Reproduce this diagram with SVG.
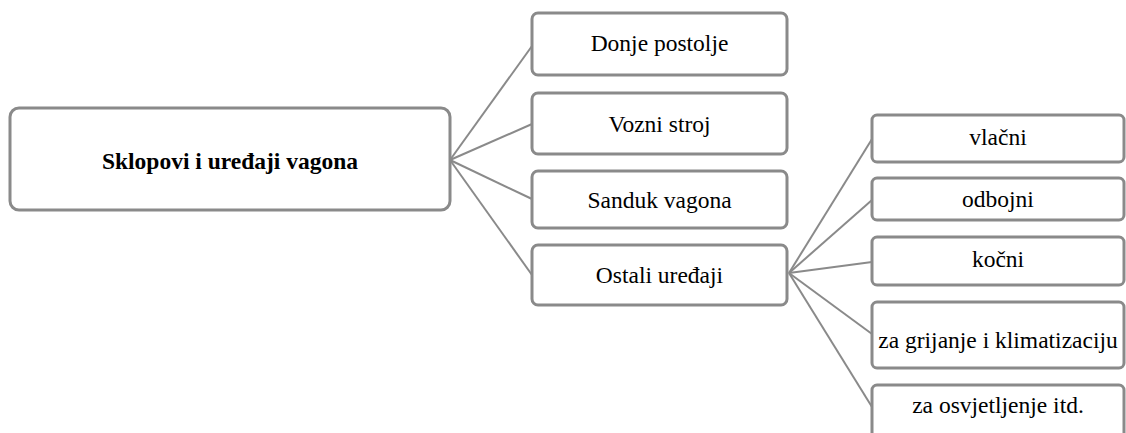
<svg xmlns="http://www.w3.org/2000/svg" width="1126" height="433" viewBox="0 0 1126 433">
<style>
.box{fill:#ffffff;stroke:#8a8a8a;stroke-width:3}
text{font-family:'Liberation Serif','Times New Roman',serif;font-size:23.5px;fill:#000;text-anchor:middle}
.b{font-weight:bold}
.con{stroke:#8a8a8a;stroke-width:2;fill:none}
</style>
<rect width="1126" height="433" fill="#ffffff"/>
<g id="connectors">
<line class="con" x1="450" y1="160" x2="532" y2="46"/>
<line class="con" x1="450" y1="160" x2="532" y2="124"/>
<line class="con" x1="450" y1="160" x2="532" y2="199"/>
<line class="con" x1="450" y1="160" x2="532" y2="275"/>
<line class="con" x1="789" y1="273" x2="872" y2="139"/>
<line class="con" x1="789" y1="273" x2="872" y2="200"/>
<line class="con" x1="789" y1="273" x2="872" y2="262"/>
<line class="con" x1="789" y1="273" x2="872" y2="334"/>
<line class="con" x1="789" y1="273" x2="872" y2="407"/>
</g>
<g id="root"><rect class="box" x="10" y="108" width="440" height="102" rx="9"/><text class="b" x="230" y="169">Sklopovi i uređaji vagona</text></g>
<g id="donje"><rect class="box" x="532" y="13" width="255" height="62" rx="6"/><text x="659.5" y="51">Donje postolje</text></g>
<g id="vozni"><rect class="box" x="532" y="93" width="255" height="61" rx="6"/><text x="659.5" y="132">Vozni stroj</text></g>
<g id="sanduk"><rect class="box" x="532" y="171" width="255" height="57" rx="6"/><text x="659.5" y="208">Sanduk vagona</text></g>
<g id="ostali"><rect class="box" x="532" y="245" width="255" height="60" rx="6"/><text x="659.5" y="283">Ostali uređaji</text></g>
<g id="vlacni"><rect class="box" x="872" y="115" width="252" height="47" rx="5"/><text x="998" y="145">vlačni</text></g>
<g id="odbojni"><rect class="box" x="872" y="178" width="252" height="42" rx="5"/><text x="998" y="207">odbojni</text></g>
<g id="kocni"><rect class="box" x="872" y="237" width="252" height="48" rx="5"/><text x="998" y="267">kočni</text></g>
<g id="grijanje"><rect class="box" x="872" y="302" width="252" height="66" rx="5"/><text x="998" y="348">za grijanje i klimatizaciju</text></g>
<g id="osvjetljenje"><rect class="box" x="872" y="385" width="252" height="60" rx="5"/><text x="998" y="413">za osvjetljenje itd.</text></g>
</svg>
